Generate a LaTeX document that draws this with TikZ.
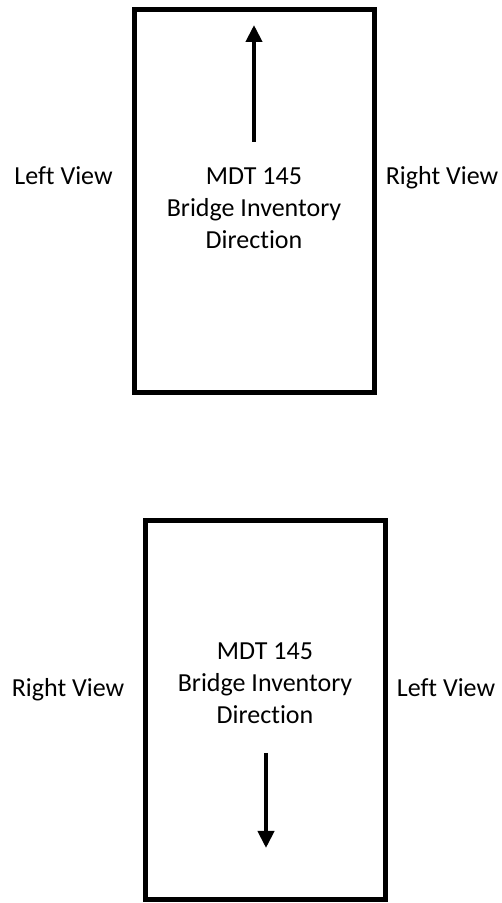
\documentclass[tikz,border=0pt]{standalone}
\usepackage{fontspec}
\setmainfont{Carlito}[Ligatures=NoCommon]
\usetikzlibrary{arrows.meta, positioning}

\begin{document}
\begin{tikzpicture}[
    x=1pt, y=1pt,
    every node/.style={font=\fontsize{26}{32}\selectfont},
    viewbox/.style={rectangle, draw, line width=5pt, minimum width=240pt, inner sep=0pt},
    sidelabel/.style={anchor=base, inner sep=0pt},
    boxtext/.style={anchor=base, align=center, inner sep=0pt},
    dirarrow/.style={-{Triangle[length=17pt, width=16pt]}, line width=4pt},
]
\useasboundingbox (0,0) rectangle (502,903);

% Upper box
\node[viewbox, minimum height=383pt] (topbox) at (254,701.5) {};
\node[boxtext] (toptext) at (254,654) {MDT 145\\Bridge Inventory\\Direction};
\node[sidelabel] (topleft) at (63.5,718) {Left View};
\node[sidelabel] (topright) at (442,718) {Right View};
\coordinate (uptail) at (254,761);
\coordinate (uphead) at (254,878);

% Lower box
\node[viewbox, minimum height=379pt] (botbox) at (265,192.5) {};
\node[boxtext] (bottext) at (265,179) {MDT 145\\Bridge Inventory\\Direction};
\node[sidelabel] (botleft) at (68,206) {Right View};
\node[sidelabel] (botright) at (446,206) {Left View};
\coordinate (downtail) at (266,150);
\coordinate (downhead) at (266,55);

% Direction arrows
\draw[dirarrow] (uptail) -- (uphead);
\draw[dirarrow] (downtail) -- (downhead);

\end{tikzpicture}
\end{document}
